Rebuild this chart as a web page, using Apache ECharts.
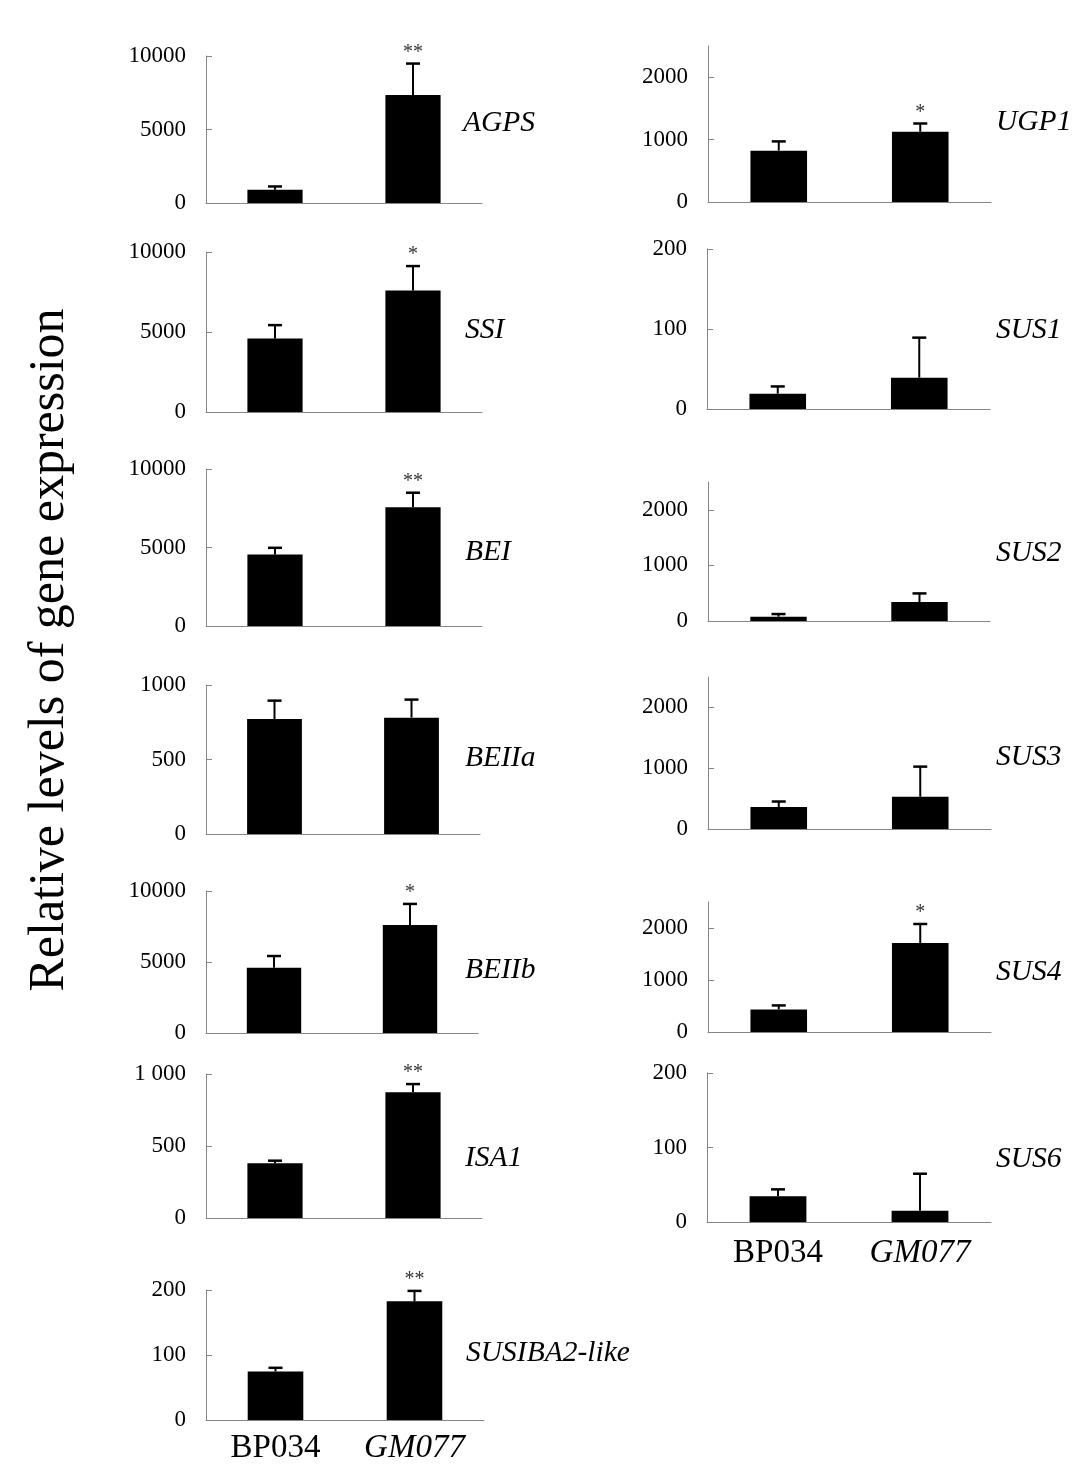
<!DOCTYPE html>
<html>
<head>
<meta charset="utf-8">
<script src="https://cdn.jsdelivr.net/npm/echarts@6/dist/echarts.min.js"></script>
<style>
  html, body { margin: 0; padding: 0; background: #fff; }
  #chart { width: 1090px; height: 1476px; }
</style>
</head>
<body>
<div id="chart"></div>
<script>
// ---- data ----
const categories = ['BP034', 'GM077'];
const genes = ['AGPS', 'SSI', 'BEI', 'BEIIa', 'BEIIb', 'ISA1', 'SUSIBA2-like',
               'UGP1', 'SUS1', 'SUS2', 'SUS3', 'SUS4', 'SUS6'];
const meanBP034 = [900, 4600, 4560, 772, 4600, 380, 74.7, 823, 19.2, 77, 361, 435, 34.4];
const meanGM077 = [7340, 7600, 7560, 781, 7600, 873, 182.6, 1126, 39.2, 340, 530, 1713, 15.2];
const sdBP034 = [225, 830, 420, 123, 820, 18, 5.6, 148, 9, 48, 91, 76, 9.4];
const sdGM077 = [2145, 1520, 930, 121, 1490, 57, 16, 132, 50, 156, 496, 364, 49.6];
const starsGM077 = ['**', '*', '**', '', '*', '**', '**', '*', '', '', '', '*', ''];
const yMax = [10000, 10000, 10000, 1000, 10000, 1000, 200, 2500, 200, 2500, 2500, 2500, 200];
const yTicks = [
  [0, 5000, 10000], [0, 5000, 10000], [0, 5000, 10000], [0, 500, 1000],
  [0, 5000, 10000], [0, 500, 1000], [0, 100, 200],
  [0, 1000, 2000], [0, 100, 200], [0, 1000, 2000], [0, 1000, 2000], [0, 1000, 2000], [0, 100, 200]
];
const yTickLabels = [
  ['0', '5000', '10000'], ['0', '5000', '10000'], ['0', '5000', '10000'], ['0', '500', '1000'],
  ['0', '5000', '10000'], ['0', '500', '1 000'], ['0', '100', '200'],
  ['0', '1000', '2000'], ['0', '100', '200'], ['0', '1000', '2000'], ['0', '1000', '2000'], ['0', '1000', '2000'], ['0', '100', '200']
];
const yAxisTitle = 'Relative levels of gene expression';

// ---- layout (pixels) ----
const grids = [
  { left: 206, top: 56, width: 276, height: 147 },
  { left: 206, top: 252, width: 276, height: 160 },
  { left: 206, top: 469, width: 276, height: 157 },
  { left: 206, top: 685, width: 274, height: 149 },
  { left: 206, top: 891, width: 272, height: 142 },
  { left: 206, top: 1074, width: 276, height: 144 },
  { left: 206, top: 1290, width: 278, height: 130 },
  { left: 708, top: 46, width: 283, height: 156 },
  { left: 707, top: 249, width: 283, height: 160 },
  { left: 708, top: 482, width: 282, height: 139 },
  { left: 708, top: 677, width: 283, height: 152 },
  { left: 708, top: 902, width: 283, height: 130 },
  { left: 707, top: 1073, width: 284, height: 149 }
];
const geneLabelPos = [
  [463, 123], [465, 330], [465, 552], [465, 758], [465, 970], [465, 1158], [466, 1353],
  [996, 122], [996, 330], [996, 553], [996, 757], [996, 972], [996, 1159]
];
const xLabelMargin = { 6: 12, 12: 15 };

const AXIS_COLOR = '#858585';
const SERIF = '"Liberation Serif", "Times New Roman", serif';

const chart = echarts.init(document.getElementById('chart'), null, { renderer: 'canvas' });

const option = {
  animation: false,
  backgroundColor: '#ffffff',
  grid: grids.map(g => Object.assign({ containLabel: false }, g)),
  xAxis: genes.map((g, i) => ({
    type: 'category',
    gridIndex: i,
    data: categories,
    axisLine: { show: true, lineStyle: { color: AXIS_COLOR, width: 1 } },
    axisTick: { show: false },
    axisLabel: {
      show: xLabelMargin[i] !== undefined,
      margin: xLabelMargin[i] || 8,
      formatter: v => v === 'GM077' ? '{it|' + v + '}' : '{n|' + v + '}',
      rich: {
        n: { fontFamily: SERIF, fontSize: 33, color: '#000' },
        it: { fontFamily: SERIF, fontSize: 33, fontStyle: 'italic', color: '#000' }
      }
    },
    splitLine: { show: false }
  })),
  yAxis: genes.map((g, i) => ({
    type: 'value',
    gridIndex: i,
    min: 0,
    max: yMax[i],
    interval: yTicks[i][1] - yTicks[i][0],
    axisLine: { show: true, lineStyle: { color: AXIS_COLOR, width: 1 } },
    axisTick: {
      show: true, inside: true, length: 6,
      lineStyle: { color: AXIS_COLOR, width: 1 },
      customValues: yTicks[i]
    },
    axisLabel: {
      show: true,
      margin: 20,
      fontFamily: SERIF,
      fontSize: 23,
      color: '#000',
      customValues: yTicks[i],
      formatter: v => {
        const k = yTicks[i].indexOf(v);
        return k >= 0 ? yTickLabels[i][k] : '';
      }
    },
    splitLine: { show: false }
  })),
  series: [],
  graphic: []
};

genes.forEach((g, i) => {
  option.series.push({
    type: 'bar',
    xAxisIndex: i,
    yAxisIndex: i,
    barWidth: '40%',
    itemStyle: { color: '#000' },
    data: [meanBP034[i], meanGM077[i]],
    z: 2
  });
  const stars = ['', starsGM077[i]];
  option.series.push({
    type: 'custom',
    xAxisIndex: i,
    yAxisIndex: i,
    z: 3,
    data: [[0, meanBP034[i], sdBP034[i]], [1, meanGM077[i], sdGM077[i]]],
    renderItem: (params, api) => {
      const c = api.value(0);
      const m = api.value(1);
      const s = api.value(2);
      const base = api.coord([c, m]);
      const top = api.coord([c, m + s]);
      const children = [
        { type: 'line', shape: { x1: base[0], y1: base[1], x2: top[0], y2: top[1] },
          style: { stroke: '#000', lineWidth: 2 } },
        { type: 'line', shape: { x1: top[0] - 7, y1: top[1], x2: top[0] + 7, y2: top[1] },
          style: { stroke: '#000', lineWidth: 2.5 } }
      ];
      const st = stars[params.dataIndex];
      if (st) {
        children.push({
          type: 'text', x: top[0], y: top[1] - 1,
          style: { text: st, font: '20px ' + SERIF, fill: '#333',
                   textAlign: 'center', textVerticalAlign: 'bottom' }
        });
      }
      return { type: 'group', children };
    }
  });
  option.graphic.push({
    type: 'text',
    x: geneLabelPos[i][0], y: geneLabelPos[i][1],
    style: { text: g, font: 'italic 29.5px ' + SERIF, fill: '#000',
             textAlign: 'left', textVerticalAlign: 'middle' }
  });
});

option.graphic.push({
  type: 'text',
  x: 50, y: 650,
  rotation: Math.PI / 2,
  style: { text: yAxisTitle, font: '50px ' + SERIF, fill: '#000',
           textAlign: 'center', textVerticalAlign: 'middle' }
});

chart.setOption(option);
</script>
</body>
</html>
